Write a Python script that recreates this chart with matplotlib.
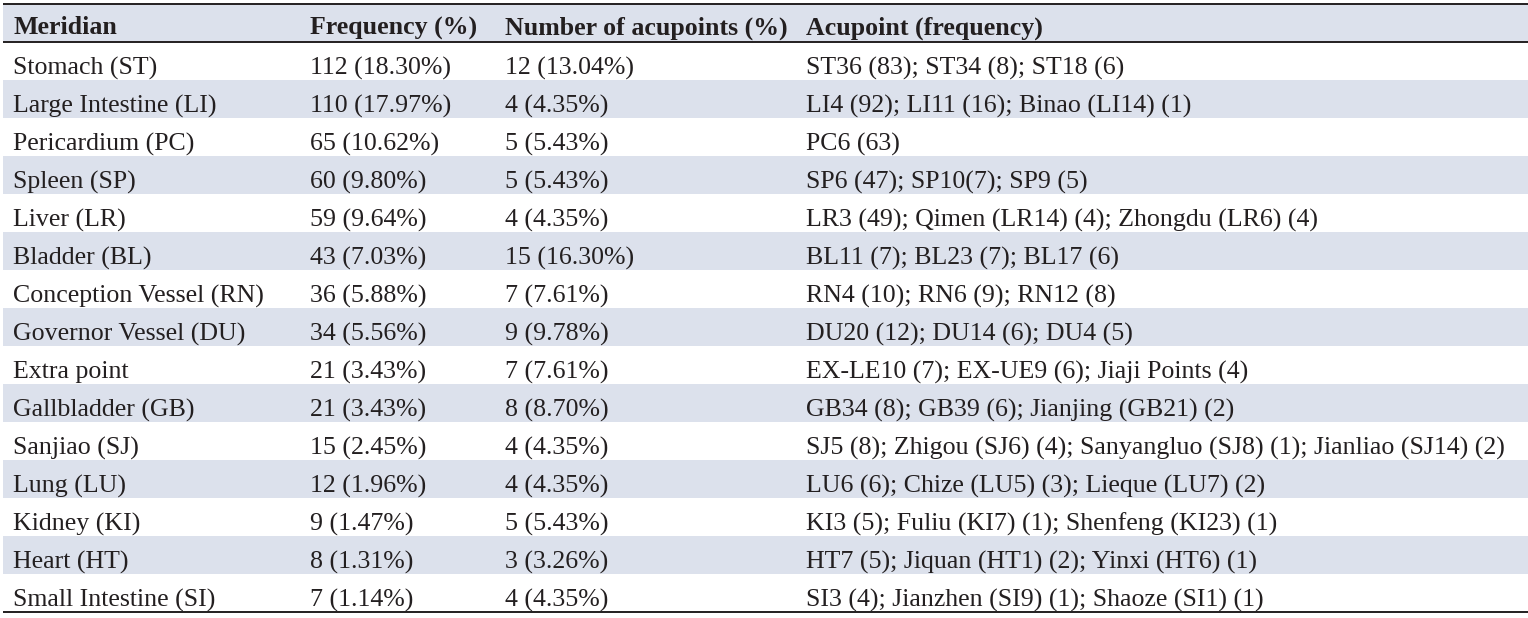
import matplotlib
matplotlib.use('Agg')
import matplotlib.pyplot as plt

header = ['Meridian', 'Frequency (%)', 'Number of acupoints (%)', 'Acupoint (frequency)']

meridians = ['Stomach (ST)', 'Large Intestine (LI)', 'Pericardium (PC)', 'Spleen (SP)',
             'Liver (LR)', 'Bladder (BL)', 'Conception Vessel (RN)', 'Governor Vessel (DU)',
             'Extra point', 'Gallbladder (GB)', 'Sanjiao (SJ)', 'Lung (LU)', 'Kidney (KI)',
             'Heart (HT)', 'Small Intestine (SI)']
frequency = ['112 (18.30%)', '110 (17.97%)', '65 (10.62%)', '60 (9.80%)', '59 (9.64%)',
             '43 (7.03%)', '36 (5.88%)', '34 (5.56%)', '21 (3.43%)', '21 (3.43%)',
             '15 (2.45%)', '12 (1.96%)', '9 (1.47%)', '8 (1.31%)', '7 (1.14%)']
n_acupoints = ['12 (13.04%)', '4 (4.35%)', '5 (5.43%)', '5 (5.43%)', '4 (4.35%)',
               '15 (16.30%)', '7 (7.61%)', '9 (9.78%)', '7 (7.61%)', '8 (8.70%)',
               '4 (4.35%)', '4 (4.35%)', '5 (5.43%)', '3 (3.26%)', '4 (4.35%)']
acupoints = ['ST36 (83); ST34 (8); ST18 (6)',
             'LI4 (92); LI11 (16); Binao (LI14) (1)',
             'PC6 (63)',
             'SP6 (47); SP10(7); SP9 (5)',
             'LR3 (49); Qimen (LR14) (4); Zhongdu (LR6) (4)',
             'BL11 (7); BL23 (7); BL17 (6)',
             'RN4 (10); RN6 (9); RN12 (8)',
             'DU20 (12); DU14 (6); DU4 (5)',
             'EX-LE10 (7); EX-UE9 (6); Jiaji Points (4)',
             'GB34 (8); GB39 (6); Jianjing (GB21) (2)',
             'SJ5 (8); Zhigou (SJ6) (4); Sanyangluo (SJ8) (1); Jianliao (SJ14) (2)',
             'LU6 (6); Chize (LU5) (3); Lieque (LU7) (2)',
             'KI3 (5); Fuliu (KI7) (1); Shenfeng (KI23) (1)',
             'HT7 (5); Jiquan (HT1) (2); Yinxi (HT6) (1)',
             'SI3 (4); Jianzhen (SI9) (1); Shaoze (SI1) (1)']

col_x = [13, 310, 505, 806]
shade = '#dce1ec'
ink = '#231f20'
fs = 18.6

fig = plt.figure(figsize=(15.28, 6.18), dpi=100)
ax = fig.add_axes([0, 0, 1, 1])
ax.set_xlim(0, 1528)
ax.set_ylim(618, 0)
ax.axis('off')

top, head_h, row_h = 4, 38, 38
x0, x1 = 3, 1528

# header band
ax.fill_between([x0, x1], top, top + head_h, color=shade, lw=0)
for x, h in zip(col_x, header):
    ax.text(x, top + head_h / 2 + 5, h, fontsize=fs, fontweight='bold',
            family='Liberation Serif', color=ink, va='center')

rows = list(zip(meridians, frequency, n_acupoints, acupoints))
for i, row in enumerate(rows):
    y0 = top + head_h + i * row_h
    if i % 2 == 1:
        ax.fill_between([x0, x1], y0, y0 + row_h, color=shade, lw=0)
    for x, t in zip(col_x, row):
        ax.text(x, y0 + row_h / 2 + 7, t, fontsize=fs, family='Liberation Serif',
                color=ink, va='center')

bottom = top + head_h + len(rows) * row_h
for y in [top, top + head_h, bottom]:
    ax.plot([x0, x1], [y, y], color=ink, lw=1.4, solid_capstyle='butt')

fig.savefig('out.png', dpi=100)
